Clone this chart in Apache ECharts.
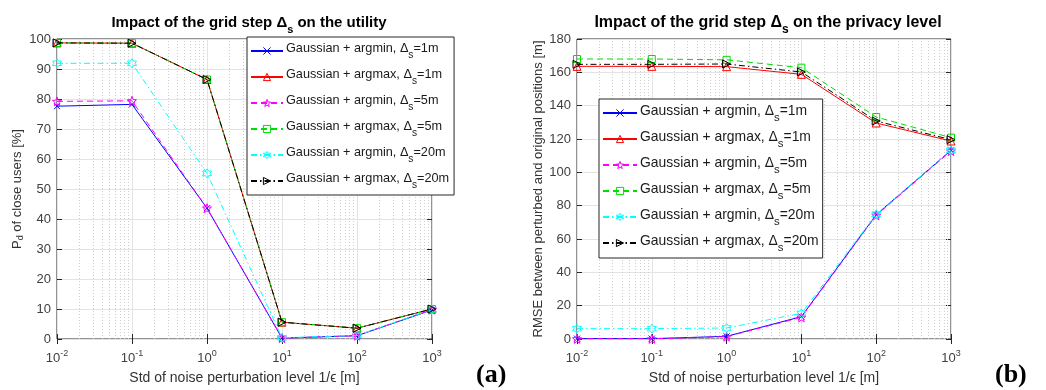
<!DOCTYPE html>
<html><head><meta charset="utf-8">
<script src="https://cdn.jsdelivr.net/npm/echarts@6/dist/echarts.min.js"></script>
<style>html,body{margin:0;padding:0;background:#fff}#c{width:1046px;height:390px}</style>
</head><body><div id="c"></div>
<script>
// ---- data ----
const xValues = [0.01, 0.1, 1, 10, 100, 1000];
const seriesNames = [
  'Gaussian + argmin, Δ_s=1m',
  'Gaussian + argmax, Δ_s=1m',
  'Gaussian + argmin, Δ_s=5m',
  'Gaussian + argmax, Δ_s=5m',
  'Gaussian + argmin, Δ_s=20m',
  'Gaussian + argmax, Δ_s=20m'
];
// (a) utility, P_d of close users [%]
const utilArgmin1  = [77.6, 78.2, 43.6, 0.3, 1.1, 9.7];
const utilArgmax1  = [98.7, 98.6, 86.5, 5.6, 3.6, 10.0];
const utilArgmin5  = [79.2, 79.4, 43.6, 0.3, 1.1, 9.8];
const utilArgmax5  = [98.7, 98.6, 86.5, 5.6, 3.6, 10.0];
const utilArgmin20 = [91.9, 91.9, 55.2, 0.4, 1.2, 9.8];
const utilArgmax20 = [98.7, 98.6, 86.5, 5.6, 3.6, 10.0];
// (b) privacy, RMSE [m]
const privArgmin1  = [0.2, 0.2, 1.6, 13.4, 74.6, 113.2];
const privArgmax1  = [163.6, 163.6, 163.4, 158.8, 129.6, 118.8];
const privArgmin5  = [0.1, 0.1, 1.4, 13.0, 74.2, 112.8];
const privArgmax5  = [168.0, 168.0, 167.5, 162.8, 133.2, 120.8];
const privArgmin20 = [6.2, 6.2, 6.6, 15.4, 74.8, 113.2];
const privArgmax20 = [164.8, 164.8, 165.0, 160.2, 130.8, 119.6];
// tick values
const yMaxA = 100, yStepA = 10;
const yMaxB = 180, yStepB = 20;

// ---- styles ----
const FONT = '"Liberation Sans", Arial, Helvetica, sans-serif';
const colors = ['#0000ff', '#ff0000', '#ff00ff', '#00dd00', '#00ffff', '#000000'];
const dashes = ['solid', 'solid', [6, 4], [6, 4], [6, 3, 1.5, 3], [6, 3, 1.5, 3]];
function starPath(n, ro, ri) {
  let p = '';
  for (let i = 0; i < 2 * n; i++) {
    const r = i % 2 === 0 ? ro : ri;
    const a = -Math.PI / 2 + i * Math.PI / n;
    p += (i === 0 ? 'M' : 'L') + (5 + r * Math.cos(a)).toFixed(3) + ',' + (5 + r * Math.sin(a)).toFixed(3);
  }
  return 'path://' + p + 'Z';
}
const symbols = [
  'path://M0,0L10,10M10,0L0,10',
  'path://M5,0L10,9L0,9Z',
  starPath(5, 5, 2.1),
  'path://M0,0H10V10H0Z',
  starPath(6, 5, 2.9),
  'path://M0,0L10,5L0,10Z'
];
const symSizes = [6, 8, 9, 7, 9, 8];
const CLEAR = 'rgba(255,255,255,0)';

const pairs = (ys) => xValues.map((x, i) => [x, ys[i]]);
function mkSeries(i, ys, gi) {
  return {
    name: seriesNames[i], type: 'line', xAxisIndex: gi * 2, yAxisIndex: gi * 2,
    data: pairs(ys), symbol: symbols[i], symbolSize: symSizes[i],
    lineStyle: { color: colors[i], width: 1, type: dashes[i] },
    itemStyle: { color: CLEAR, borderColor: colors[i], borderWidth: 1 },
    emphasis: { disabled: true }, animation: false, z: 3 + i
  };
}
const minorVals = [];
for (let e = -2; e < 3; e++) for (let m = 2; m <= 9; m++) minorVals.push(m * Math.pow(10, e));
function minorGrid(gi) {
  return {
    type: 'line', xAxisIndex: gi * 2, yAxisIndex: gi * 2, data: [], silent: true, z: 1,
    markLine: {
      silent: true, symbol: ['none', 'none'], label: { show: false }, animation: false, z: 1,
      lineStyle: { type: [1, 2], color: '#cfcfcf', width: 1 },
      data: minorVals.map(v => ({ xAxis: v }))
    }
  };
}
function legendRich(fs) {
  return {
    t: { fontSize: fs, color: '#1a1a1a', fontFamily: FONT, lineHeight: 18, verticalAlign: 'top' },
    s: { fontSize: fs - 2.5, color: '#1a1a1a', fontFamily: FONT, lineHeight: 13, verticalAlign: 'top', padding: [8, 0, 0, 0] }
  };
}
const legendFmt = n => { const [p, q] = n.split('_s'); return '{t|' + p + '}{s|s}{t|' + q + '}'; };
function xAxisPair(gi) {
  const base = { type: 'log', logBase: 10, min: 0.01, max: 1000, gridIndex: gi, axisLine: { show: false } };
  return [
    Object.assign({}, base, {
      position: 'bottom',
      axisTick: { show: true, inside: true, length: 5, lineStyle: { color: '#262626' } },
      axisLabel: {
        margin: 10,
        formatter: v => '{b|10}{p|' + Math.round(Math.log10(v)) + '}',
        rich: { b: { fontSize: 13, fontFamily: FONT, color: '#404040', lineHeight: 16, verticalAlign: 'bottom' },
                p: { fontSize: 9, fontFamily: FONT, color: '#404040', lineHeight: 16, verticalAlign: 'top', padding: [0, 0, 8, 0] } }
      },
      splitLine: { show: true, lineStyle: { color: '#e3e3e3', width: 1 } },
      name: 'Std of noise perturbation level 1/ϵ [m]', nameLocation: 'middle', nameGap: 32,
      nameTextStyle: { fontSize: 14, fontFamily: FONT, color: '#333' }
    }),
    Object.assign({}, base, {
      position: 'top',
      axisTick: { show: true, inside: true, length: 5, lineStyle: { color: '#262626' } },
      axisLabel: { show: false }, splitLine: { show: false }
    })
  ];
}
function yAxisPair(gi, max, interval, name) {
  const base = { type: 'value', min: 0, max: max, interval: interval, gridIndex: gi, axisLine: { show: false } };
  return [
    Object.assign({}, base, {
      position: 'left',
      axisTick: { show: true, inside: true, length: 5, lineStyle: { color: '#262626' } },
      axisLabel: { fontSize: 13, fontFamily: FONT, color: '#404040', margin: 6 },
      splitLine: { show: true, lineStyle: { color: '#e3e3e3', width: 1 } },
      name: name, nameLocation: 'middle', nameGap: 29,
      nameTextStyle: { fontSize: 13, fontFamily: FONT, color: '#333',
        rich: { t: { fontSize: 13, fontFamily: FONT, color: '#333' },
                s: { fontSize: 9, fontFamily: FONT, color: '#333', verticalAlign: 'bottom', padding: [6, 0, 0, 0] } } }
    }),
    Object.assign({}, base, {
      position: 'right',
      axisTick: { show: true, inside: true, length: 5, lineStyle: { color: '#262626' } },
      axisLabel: { show: false }, splitLine: { show: false }
    })
  ];
}
function titleRich(fs) {
  return {
    a: { fontSize: fs, fontWeight: 'bold', fontFamily: FONT, color: '#000', lineHeight: 20, verticalAlign: 'top' },
    s: { fontSize: fs - 4, fontWeight: 'bold', fontFamily: FONT, color: '#000', lineHeight: 14, verticalAlign: 'top', padding: [9, 0, 0, 0] }
  };
}
function mkLegend(left, top, iw, fs, gap, padR) {
  return {
    data: seriesNames, left: left, top: top, orient: 'vertical', itemWidth: iw, itemHeight: 9, itemGap: gap,
    padding: [5, padR, 5, 3], backgroundColor: '#fff', borderColor: '#262626', borderWidth: 1, borderRadius: 0,
    z: 20, formatter: legendFmt, selectedMode: false,
    itemStyle: { color: CLEAR, borderColor: 'inherit', borderWidth: 1 },
    textStyle: { rich: legendRich(fs), padding: [0, 0, 0, -2] }
  };
}

const option = {
  backgroundColor: '#fff',
  animation: false,
  title: [
    { text: '{a|Impact of the grid step Δ}{s|s}{a| on the utility}', left: 244, top: 10, textAlign: 'center',
      textStyle: { rich: titleRich(15) } },
    { text: '{a|Impact of the grid step Δ}{s|s}{a| on the privacy level}', left: 763, top: 10, textAlign: 'center',
      textStyle: { rich: titleRich(16) } }
  ],
  grid: [
    { left: 57, top: 39, width: 375, height: 300, show: true, borderColor: '#262626', borderWidth: 1, backgroundColor: 'transparent' },
    { left: 577, top: 39, width: 374, height: 300, show: true, borderColor: '#262626', borderWidth: 1, backgroundColor: 'transparent' }
  ],
  xAxis: [...xAxisPair(0), ...xAxisPair(1)],
  yAxis: [...yAxisPair(0, yMaxA, yStepA, '{t|P}{s|d}{t| of close users [%]}'),
          ...yAxisPair(1, yMaxB, yStepB, 'RMSE between perturbed and original positions [m]')],
  legend: [ mkLegend(247, 37, 32, 12.7, 8, 5), mkLegend(599, 99, 34, 13.9, 7, 4) ],
  graphic: [
    { type: 'text', left: 476, top: 362, z: 30, style: { text: '(a)', font: 'bold 26px "Liberation Serif", "DejaVu Serif", serif', fill: '#000' } },
    { type: 'text', left: 995, top: 362, z: 30, style: { text: '(b)', font: 'bold 26px "Liberation Serif", "DejaVu Serif", serif', fill: '#000' } }
  ],
  series: [
    minorGrid(0), minorGrid(1),
    mkSeries(0, utilArgmin1, 0), mkSeries(1, utilArgmax1, 0), mkSeries(2, utilArgmin5, 0),
    mkSeries(3, utilArgmax5, 0), mkSeries(4, utilArgmin20, 0), mkSeries(5, utilArgmax20, 0),
    mkSeries(0, privArgmin1, 1), mkSeries(1, privArgmax1, 1), mkSeries(2, privArgmin5, 1),
    mkSeries(3, privArgmax5, 1), mkSeries(4, privArgmin20, 1), mkSeries(5, privArgmax20, 1)
  ]
};
const chart = echarts.init(document.getElementById('c'), null, { renderer: 'canvas' });
chart.setOption(option);
</script></body></html>
